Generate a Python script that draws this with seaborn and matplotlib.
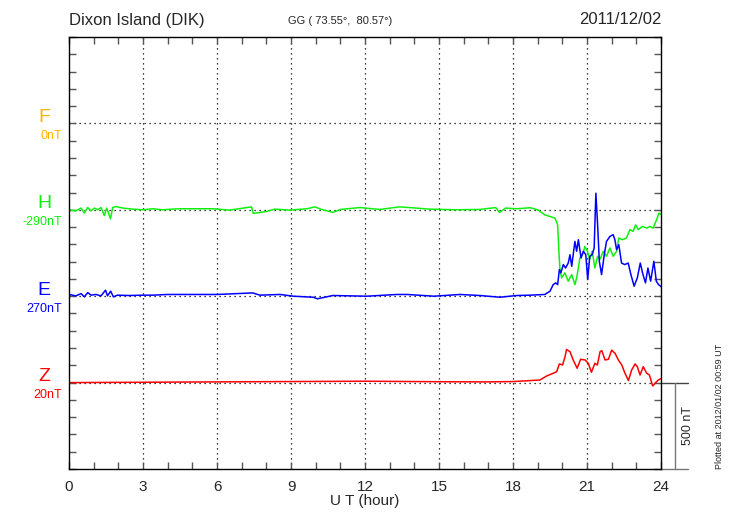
import numpy as np
import pandas as pd
import matplotlib
matplotlib.use("Agg")
import matplotlib.pyplot as plt
import seaborn as sns

# Componentes: hora UT y desviacion (nT) respecto a la linea base de cada traza
h_hours = [0.0, 0.28, 0.49, 0.62, 0.76, 0.89, 1.03, 1.16, 1.3, 1.43, 1.53, 1.68, 1.77, 1.9,
           2.18, 2.58, 2.99, 3.4, 3.8, 4.2, 4.5, 5.85, 6.5, 7.4, 7.47, 8.0, 8.35, 8.96,
           9.64, 9.97, 10.2, 10.7, 11.0, 11.8, 12.6, 13.4, 13.8, 14.6, 15.7, 16.66, 17.3,
           17.45, 17.7, 18.15, 18.7, 19.0, 19.29, 19.7, 19.81, 19.86, 19.9, 19.97, 20.1,
           20.24, 20.38, 20.51, 20.58, 20.65, 20.71, 20.85, 20.91, 21.02, 21.11, 21.21,
           21.32, 21.43, 21.52, 21.66, 21.79, 21.93, 22.06, 22.2, 22.29, 22.43, 22.6,
           22.74, 22.87, 22.97, 23.08, 23.24, 23.42, 23.55, 23.68, 23.82, 23.92, 24.03]
h_values = [0, -6, 10, -19, 13, -6, 10, 0, 13, -33, 10, -52, 13, 19,
            10, 4, 0, 6, 0, 4, 6, 6, -2, 17, -21, -10, 4, -2,
            6, 17, 4, -15, 2, 13, 2, 17, 13, 4, 0, 2, 13,
            -15, 10, 6, 12, 0, -29, -48, -87, -240, -337, -394, -365,
            -413, -375, -433, -394, -337, -279, -250, -212, -240, -288, -240,
            -337, -269, -288, -240, -269, -221, -269, -240, -163, -173, -163,
            -115, -125, -87, -115, -96, -106, -96, -106, -58, -19, -29]

e_hours = [0.0, 0.28, 0.49, 0.62, 0.76, 0.89, 1.09, 1.3, 1.48, 1.56, 1.69, 1.8, 1.96,
           2.43, 2.99, 3.4, 4.0, 4.5, 6.0, 7.45, 7.74, 8.55, 9.1, 9.9, 10.07, 10.7, 12.07,
           13.3, 13.7, 14.8, 15.85, 16.66, 17.47, 18.15, 18.7, 19.0, 19.29, 19.5, 19.63,
           19.73, 19.81, 19.88, 19.94, 20.04, 20.13, 20.24, 20.31, 20.38, 20.51, 20.58,
           20.65, 20.76, 20.85, 20.95, 21.03, 21.11, 21.21, 21.29, 21.36, 21.43, 21.5,
           21.59, 21.7, 21.79, 21.93, 22.06, 22.13, 22.2, 22.29, 22.4, 22.53, 22.67,
           22.78, 22.91, 23.04, 23.16, 23.27, 23.37, 23.47, 23.58, 23.71, 23.81, 23.9,
           24.07]
e_values = [10, 2, 15, -4, 21, 6, 10, 2, 35, 2, 29, -4, 6,
            4, 6, 6, 10, 10, 10, 19, 6, 10, 0, -6, -15, 4, 0,
            10, 10, 0, 10, 4, -6, 4, 6, 8, 10, 29, 67,
            77, 67, 154, 135, 183, 163, 192, 240, 173, 317, 260,
            327, 221, 260, 240, 96, 231, 240, 279, 596, 413, 202,
            125, 240, 317, 346, 356, 327, 269, 298, 192, 183, 192,
            125, 58, 106, 192, 125, 77, 163, 87, 202, 87, 67,
            48]

z_hours = [0.0, 3.0, 6.0, 9.0, 12.0, 15.0, 17.0, 18.0, 18.5, 19.09, 19.36, 19.63, 19.77,
           19.88, 20.01, 20.11, 20.17, 20.31, 20.44, 20.6, 20.74, 20.92, 21.05, 21.18,
           21.32, 21.42, 21.53, 21.6, 21.73, 21.87, 22.0, 22.14, 22.27, 22.41, 22.54,
           22.68, 22.81, 22.95, 23.04, 23.15, 23.28, 23.42, 23.53, 23.66, 23.76, 23.89,
           24.03]
z_values = [0, 2, 4, 6, 8, 5, 4, 6, 10, 15, 38, 54, 63,
            108, 102, 150, 192, 179, 131, 83, 135, 131, 112, 60,
            112, 102, 179, 185, 131, 135, 188, 169, 131, 102, 54,
            12, 73, 108, 92, 44, 92, 54, 44, -19, -4, 15,
            25]

componentes = ["F", "H", "E", "Z"]
etiquetas = ["0nT", "-290nT", "270nT", "20nT"]
colores = {"F": "#FFB400", "H": "#10F010", "E": "#0000FF", "Z": "#FF0000"}
bases = {"F": 2000, "H": 1500, "E": 1000, "Z": 500}

series = {"H": (h_hours, h_values), "E": (e_hours, e_values), "Z": (z_hours, z_values)}

sns.set_style("white")
plt.rcParams["font.family"] = ["Liberation Sans", "DejaVu Sans"]

fig = plt.figure(figsize=(7.3, 5.2), dpi=100)
ax = fig.add_axes([69 / 730, 1 - 469 / 520, 592 / 730, 432 / 520])

for comp, (hrs, vals) in series.items():
    df = pd.DataFrame({"hora": hrs, "nT": np.array(vals) + bases[comp]})
    sns.lineplot(data=df, x="hora", y="nT", color=colores[comp], linewidth=1.1,
                 ax=ax, estimator=None, sort=False)

ax.set_xlim(0, 24)
ax.set_ylim(0, 2500)

# rejilla punteada
for b in bases.values():
    ax.axhline(b, color="black", linestyle=(0, (1, 3)), linewidth=0.9, zorder=0)
for h in range(3, 24, 3):
    ax.axvline(h, color="black", linestyle=(0, (1, 3)), linewidth=0.9, zorder=0)

ax.set_xticks(range(0, 25, 3))
ax.set_xticks(range(0, 25), minor=True)
ax.set_yticks(range(0, 2501, 100))
ax.set_yticklabels([])
ax.tick_params(axis="both", which="both", direction="in", length=5, width=1,
               color="#555555", top=True, right=True, bottom=True, left=True)
ax.tick_params(axis="x", labelsize=11, pad=8)
ax.set_xlabel("U T (hour)", fontsize=11, labelpad=0)
ax.set_ylabel("")
for s in ax.spines.values():
    s.set_color("black")
    s.set_linewidth(1)

# etiquetas de componentes a la izquierda
tr = ax.get_yaxis_transform()
for comp, lab in zip(componentes, etiquetas):
    ax.text(-0.042, bases[comp] + 35, comp, transform=tr, color=colores[comp],
            fontsize=14, ha="center", va="center")
    ax.text(-0.012, bases[comp] - 72, lab, transform=tr, color=colores[comp],
            fontsize=9, ha="right", va="center")

# barra de escala 500 nT
ax.plot([24, 25.1], [500, 500], color="#444444", linewidth=1, clip_on=False)
ax.plot([24.55, 24.55], [0, 500], color="#777777", linewidth=1, clip_on=False)
ax.plot([24, 25.1], [0, 0], color="#777777", linewidth=1, clip_on=False)
ax.text(25.1, 250, "500 nT", rotation=90, ha="center", va="center", fontsize=9)

fig.text(69 / 730, 1 - 20 / 520, "Dixon Island (DIK)", fontsize=12, ha="left", va="center")
fig.text(340 / 730, 1 - 21 / 520, "GG ( 73.55°,  80.57°)", fontsize=8, ha="center", va="center")
fig.text(661 / 730, 1 - 20 / 520, "2011/12/02", fontsize=12, ha="right", va="center")
fig.text(720 / 730, 1 - 469 / 520, "Plotted at 2012/01/02 00:59 UT", fontsize=6.5,
         rotation=90, ha="center", va="bottom")

fig.savefig("out.png", dpi=100)
